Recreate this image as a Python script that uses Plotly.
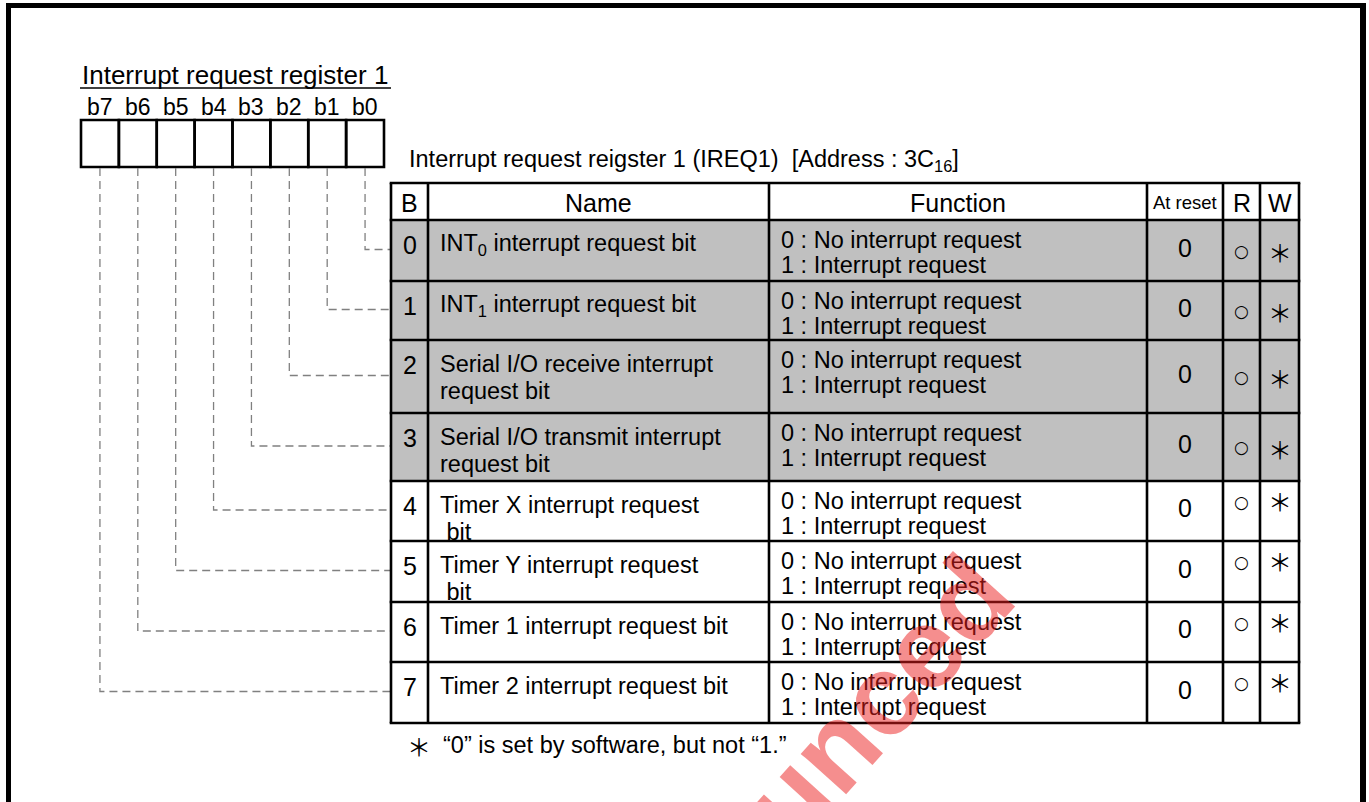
import plotly.graph_objects as go

# ---------------- data ----------------
register_title = "Interrupt request register 1"
bit_labels = ["b7", "b6", "b5", "b4", "b3", "b2", "b1", "b0"]
table_title = "Interrupt request reigster 1 (IREQ1)\u00a0\u00a0[Address : 3C<sub>16</sub>]"
headers = ["B", "Name", "Function", "At reset", "R", "W"]
bit_numbers = ["0", "1", "2", "3", "4", "5", "6", "7"]
names = [
    ["INT<sub>0</sub> interrupt request bit"],
    ["INT<sub>1</sub> interrupt request bit"],
    ["Serial I/O receive interrupt", "request bit"],
    ["Serial I/O transmit interrupt", "request bit"],
    ["Timer X interrupt request", "\u00a0bit"],
    ["Timer Y interrupt request", "\u00a0bit"],
    ["Timer 1 interrupt request bit"],
    ["Timer 2 interrupt request bit"],
]
functions = [
    ["0 : No interrupt request", "1 : Interrupt request"],
    ["0 : No interrupt request", "1 : Interrupt request"],
    ["0 : No interrupt request", "1 : Interrupt request"],
    ["0 : No interrupt request", "1 : Interrupt request"],
    ["0 : No interrupt request", "1 : Interrupt request"],
    ["0 : No interrupt request", "1 : Interrupt request"],
    ["0 : No interrupt request", "1 : Interrupt request"],
    ["0 : No interrupt request", "1 : Interrupt request"],
]
at_reset = ["0", "0", "0", "0", "0", "0", "0", "0"]
read_access = ["○", "○", "○", "○", "○", "○", "○", "○"]
write_access = ["＊", "＊", "＊", "＊", "＊", "＊", "＊", "＊"]
shaded = [True, True, True, True, False, False, False, False]
footnote_mark = "＊"
footnote_text = "“0” is set by software, but not “1.”"
watermark = "unced"

# ---------------- layout geometry ----------------
W, H = 1369, 802
FONT = "Liberation Sans, Arial, Helvetica, sans-serif"
CJK = "Noto Sans CJK JP"
SYM = "DejaVu Sans"
BOX_L, BOX_R, BOX_T, BOX_B = 81, 384, 120, 167
COLS = [391, 428, 769, 1147, 1223, 1260, 1299]
ROWS = [183, 220, 281, 340, 413, 481, 541, 602, 662, 723]
GRID_W = 2.6
SHADE = "#c0c0c0"

shapes = []
ann = []


def text(x, y, s, size, xanchor="center", yanchor="middle", family=FONT, color="black", **kw):
    ann.append(dict(x=x, y=y, xref="x", yref="y", text=s, showarrow=False,
                    xanchor=xanchor, yanchor=yanchor,
                    font=dict(family=family, size=size, color=color), **kw))


def line(x0, y0, x1, y1, width, color="black", dash=None):
    d = dict(type="line", xref="x", yref="y", x0=x0, y0=y0, x1=x1, y1=y1,
             line=dict(color=color, width=width))
    if dash:
        d["line"]["dash"] = dash
    shapes.append(d)


# outer frame
line(6, 5.5, 1366, 5.5, 5)
line(8.5, 3, 8.5, H, 5)
line(1363, 3, 1363, H, 6)

# register title with underline
text(BOX_L - 1, 75, register_title, 26, xanchor="left")
line(BOX_L - 1, 88, 391, 88, 1.6)

# bit boxes and labels
cw = (BOX_R - BOX_L) / len(bit_labels)
for i, lab in enumerate(bit_labels):
    cx = BOX_L + cw * (i + 0.5)
    text(cx, 107, lab, 23)
    shapes.append(dict(type="rect", xref="x", yref="y",
                       x0=BOX_L + cw * i, x1=BOX_L + cw * (i + 1), y0=BOX_T, y1=BOX_B,
                       line=dict(color="black", width=GRID_W)))

# table row backgrounds
for r in range(len(bit_numbers)):
    if shaded[r]:
        shapes.append(dict(type="rect", xref="x", yref="y", layer="below",
                           x0=COLS[0], x1=COLS[-1], y0=ROWS[r + 1], y1=ROWS[r + 2],
                           fillcolor=SHADE, line=dict(width=0)))

# dashed connectors (b7 -> row 7 ... b0 -> row 0)
for i, lab in enumerate(bit_labels):
    bit = int(lab[1:])
    cx = BOX_L + cw * (i + 0.5)
    yc = (ROWS[bit + 1] + ROWS[bit + 2]) / 2 - 1
    shapes.append(dict(type="path", xref="x", yref="y",
                       path=f"M {cx},{BOX_B + 1} L {cx},{yc} L {COLS[0]},{yc}",
                       line=dict(color="#808080", width=1.3, dash="8px,5px")))

# table grid
for x in COLS:
    line(x, ROWS[0], x, ROWS[-1], GRID_W)
for y in ROWS:
    line(COLS[0] - 1.3, y, COLS[-1] + 1.3, y, GRID_W)

# table title
text(COLS[0] + 16, 160, table_title, 23.5, xanchor="left")

# headers
hy = (ROWS[0] + ROWS[1]) / 2
hsizes = [25, 25, 25, 18.5, 25, 25]
for c, h in enumerate(headers):
    text((COLS[c] + COLS[c + 1]) / 2, hy + 1, h, hsizes[c])

# rows
for r in range(len(bit_numbers)):
    top, bot = ROWS[r + 1], ROWS[r + 2]
    mid = (top + bot) / 2
    text((COLS[0] + COLS[1]) / 2, top + 25, bit_numbers[r], 25)
    for k, s in enumerate(names[r]):
        text(COLS[1] + 10, top + 24 + 27 * k, s, 23.5, xanchor="left")
    for k, s in enumerate(functions[r]):
        text(COLS[2] + 10, top + 20 + 25 * k, s, 23.5, xanchor="left")
    text((COLS[3] + COLS[4]) / 2, mid - 3, at_reset[r], 25)
    ry = mid if shaded[r] else top + 21
    wy = mid + 1 if shaded[r] else top + 19
    text((COLS[4] + COLS[5]) / 2, ry, read_access[r], 17, family=SYM)
    text((COLS[5] + COLS[6]) / 2, wy, write_access[r], 24, family=CJK)

# footnote
text(419, 745, footnote_mark, 24, family=CJK)
text(441, 745, footnote_text, 23.5, xanchor="left")

# watermark
text(877, 700, "<b>" + watermark + "</b>", 115, color="rgba(235,30,30,0.5)", textangle=-48)

fig = go.Figure()
fig.update_layout(
    width=W, height=H, autosize=False,
    margin=dict(l=0, r=0, t=0, b=0, pad=0),
    paper_bgcolor="white", plot_bgcolor="white",
    xaxis=dict(range=[0, W], visible=False, fixedrange=True),
    yaxis=dict(range=[H, 0], visible=False, fixedrange=True),
    shapes=shapes, annotations=ann, showlegend=False,
)
fig.write_html("out.html", config={"displayModeBar": False},
               post_script="document.body.style.margin='0';document.body.style.overflow='hidden';")
